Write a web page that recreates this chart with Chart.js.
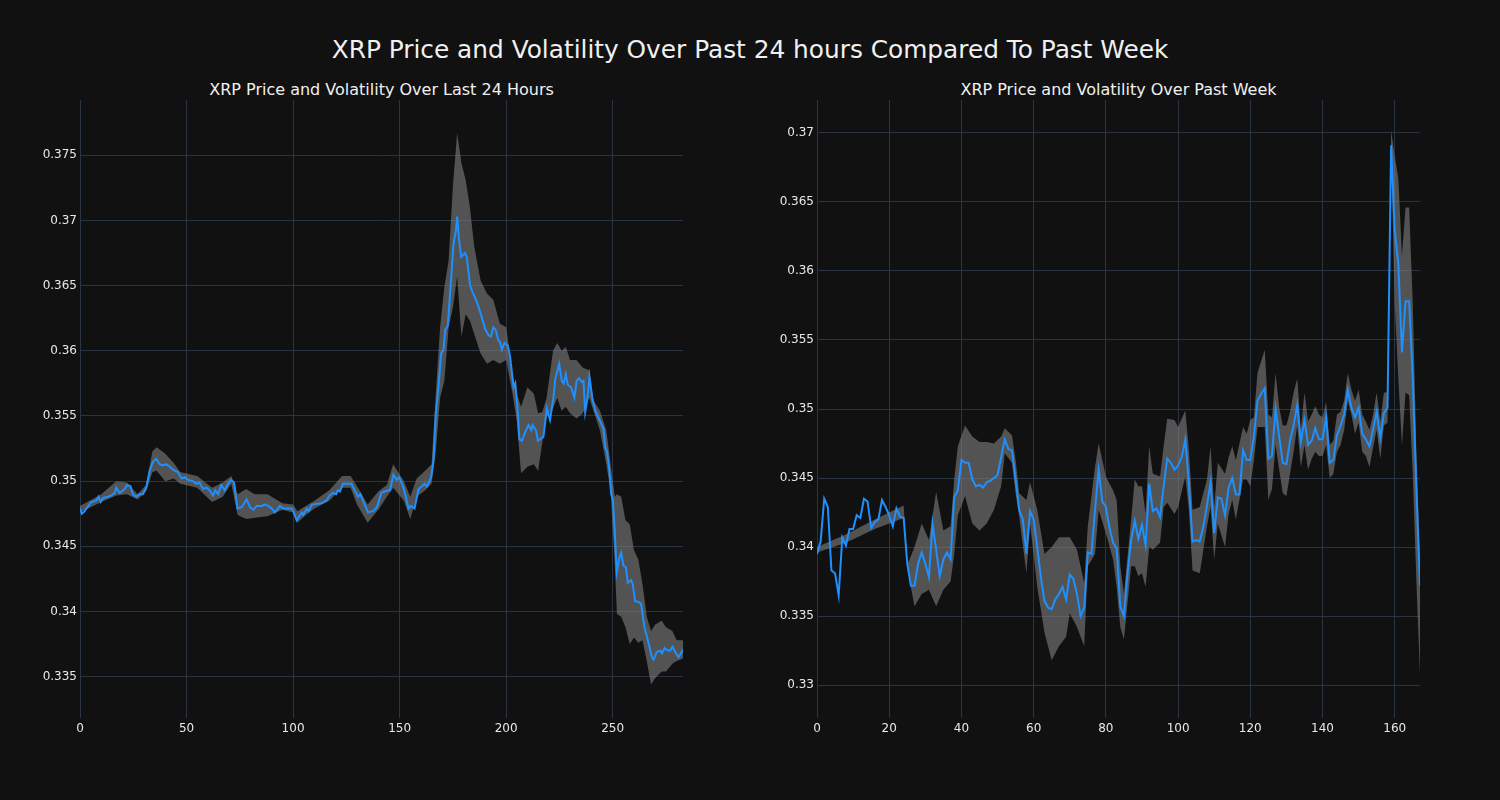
<!DOCTYPE html>
<html>
<head>
<meta charset="utf-8">
<script src="https://cdn.jsdelivr.net/npm/chart.js@4.4.0/dist/chart.umd.min.js"></script>
<style>
  body { margin: 0; background: #111111; width: 1500px; height: 800px; overflow: hidden; font-family: "DejaVu Sans", sans-serif; }
  .ttl { position: absolute; color: #f0f0f0; white-space: nowrap; transform: translateX(-50%); line-height: 1; }
  .box { position: absolute; top: 80px; }
</style>
</head>
<body>
<div class="ttl" id="mainTitle" style="left:750px; top:38px; font-size:24.8px;"></div>
<div class="ttl" id="leftTitle" style="left:381.5px; top:82px; font-size:16px;"></div>
<div class="ttl" id="rightTitle" style="left:1118.5px; top:82px; font-size:16px;"></div>
<div class="box" style="left:0px;"><canvas id="leftChart" width="700" height="668"></canvas></div>
<div class="box" style="left:737px;"><canvas id="rightChart" width="700" height="668"></canvas></div>
<script>
const mainTitle = 'XRP Price and Volatility Over Past 24 hours Compared To Past Week'
const leftTitle = 'XRP Price and Volatility Over Last 24 Hours'
const rightTitle = 'XRP Price and Volatility Over Past Week'

// last 24 hours - price
const leftX = [0, 0.9, 2.2, 5.3, 7.6, 8.7, 9.7, 10.8, 13.1, 14.7, 16.3, 17.0, 18.6, 21.0, 22.2, 23.7, 24.8, 26.4, 27.9, 29.5,
  31.1, 32.7, 34.3, 35.8, 37.4, 39.0, 40.5, 42.1, 44.4, 46.0, 47.6, 49.1, 50.7, 53.0, 54.6, 56.1, 57.7, 59.3, 60.8, 62.4,
  63.5, 64.8, 66.3, 67.9, 69.5, 71.0, 72.3, 73.9, 75.9, 78.2, 79.8, 81.4, 82.9, 85.3, 86.9, 88.4, 90.0, 91.5, 93.9, 95.4,
  99.3, 100.1, 101.7, 103.3, 104.1, 104.8, 106.4, 107.2, 108.9, 113.2, 115.6, 117.1, 118.7, 120.2, 121.0, 122.0, 123.4, 125.0, 127.4, 128.9,
  130.5, 131.6, 133.1, 135.2, 137.5, 139.4, 141.4, 144.6, 145.5, 147.1, 148.7, 149.8, 151.8, 152.9, 154.2, 155.4, 157.0, 158.9, 160.4, 161.7,
  162.8, 164.8, 165.9, 167.0, 168.2, 169.5, 170.6, 171.4, 172.6, 173.7, 175.3, 176.4, 177.0, 177.9, 178.9, 180.7, 181.5, 183.1, 184.2, 185.4,
  187.0, 188.5, 190.1, 191.7, 192.9, 194.0, 195.1, 196.3, 197.1, 198.0, 199.2, 200.8, 201.9, 203.5, 204.3, 205.5, 206.2, 207.4, 209.0, 210.5,
  211.8, 212.4, 214.0, 214.9, 217.5, 219.1, 220.6, 222.2, 223.0, 224.9, 226.1, 227.0, 228.0, 228.9, 230.5, 232.0, 233.1, 234.2, 235.5, 236.3,
  237.1, 238.2, 239.1, 240.5, 241.8, 244.1, 245.7, 246.5, 247.3, 248.3, 249.3, 250.1, 250.9, 251.9, 253.1, 254.0, 255.1, 256.2, 257.1, 258.6,
  259.4, 260.5, 262.4, 263.3, 264.9, 266.8, 268.4, 269.2, 270.7, 272.3, 273.1, 274.4, 275.9, 277.0, 278.1, 279.7, 280.9, 282.5, 283]
const leftPrice = [0.3479, 0.3475, 0.3477, 0.3484, 0.3485, 0.3488, 0.3484, 0.3487, 0.3488, 0.3489, 0.3491, 0.3495, 0.3491, 0.3494, 0.3497, 0.3496, 0.3490, 0.3488, 0.3490, 0.3490,
  0.3495, 0.3508, 0.3515, 0.3517, 0.3513, 0.3512, 0.3513, 0.3511, 0.3508, 0.3507, 0.3502, 0.3503, 0.3501, 0.3500, 0.3498, 0.3499, 0.3494, 0.3495, 0.3493, 0.3489,
  0.3493, 0.3490, 0.3497, 0.3493, 0.3498, 0.3501, 0.3499, 0.3479, 0.3480, 0.3486, 0.3480, 0.3478, 0.3481, 0.3481, 0.3482, 0.3481, 0.3479, 0.3476, 0.3481, 0.3479,
  0.3479, 0.3477, 0.3470, 0.3474, 0.3476, 0.3474, 0.3479, 0.3477, 0.3482, 0.3483, 0.3485, 0.3489, 0.3491, 0.3490, 0.3493, 0.3492, 0.3498, 0.3498, 0.3498, 0.3493,
  0.3488, 0.3490, 0.3484, 0.3476, 0.3477, 0.3480, 0.3491, 0.3493, 0.3493, 0.3505, 0.3501, 0.3503, 0.3495, 0.3488, 0.3479, 0.3481, 0.3479, 0.3494, 0.3496, 0.3498,
  0.3496, 0.3503, 0.3516, 0.3552, 0.3572, 0.3598, 0.3601, 0.3616, 0.3619, 0.3644, 0.3682, 0.3692, 0.3703, 0.3685, 0.3672, 0.3675, 0.3672, 0.3650, 0.3645, 0.3641,
  0.3634, 0.3626, 0.3617, 0.3612, 0.3611, 0.3618, 0.3616, 0.3608, 0.3607, 0.3601, 0.3606, 0.3604, 0.3595, 0.3572, 0.3575, 0.3552, 0.3532, 0.3531, 0.3538, 0.3543,
  0.3539, 0.3543, 0.3539, 0.3531, 0.3534, 0.3556, 0.3547, 0.3564, 0.3578, 0.3590, 0.3577, 0.3575, 0.3582, 0.3574, 0.3572, 0.3564, 0.3577, 0.3579, 0.3576, 0.3577,
  0.3553, 0.3564, 0.3580, 0.3563, 0.3554, 0.3546, 0.3540, 0.3526, 0.3523, 0.3511, 0.3490, 0.3486, 0.3464, 0.3430, 0.3441, 0.3445, 0.3435, 0.3434, 0.3422, 0.3424,
  0.3421, 0.3408, 0.3407, 0.3406, 0.3388, 0.3376, 0.3365, 0.3363, 0.3369, 0.3370, 0.3368, 0.3372, 0.3370, 0.3370, 0.3373, 0.3368, 0.3365, 0.3369, 0.3371]

// last 24 hours - volatility band
const leftBandX = [0, 10, 17, 22, 27, 31, 34, 36, 40, 44, 47, 55, 62, 67, 71, 74, 78, 82, 88, 95,
  100, 102, 106, 110, 117, 123, 127, 130, 135, 140, 144, 147, 152, 155, 158, 162, 165, 167, 169, 171,
  173, 175, 177, 179, 181, 183, 185, 188, 191, 194, 197, 200, 203, 205, 207, 210, 213, 215, 217, 219,
  222, 224, 226, 228, 230, 233, 236, 239, 241, 244, 247, 249, 251, 252, 254, 256, 258, 260, 262, 264,
  266, 268, 270, 273, 275, 278, 280, 283]
const leftUpper = [0.3481, 0.3490, 0.3500, 0.3499, 0.3490, 0.3497, 0.3523, 0.3526, 0.3521, 0.3514, 0.3507, 0.3504, 0.3495, 0.3499, 0.3504, 0.3490, 0.3494, 0.3490, 0.3490, 0.3483,
  0.3482, 0.3477, 0.3481, 0.3485, 0.3493, 0.3504, 0.3504, 0.3496, 0.3482, 0.3492, 0.3497, 0.3513, 0.3500, 0.3488, 0.3502, 0.3508, 0.3513, 0.3567, 0.3618, 0.3649,
  0.3669, 0.3726, 0.3767, 0.3744, 0.3731, 0.3710, 0.3680, 0.3654, 0.3644, 0.3639, 0.3621, 0.3618, 0.3582, 0.3567, 0.3557, 0.3572, 0.3567, 0.3552, 0.3553, 0.3564,
  0.3600, 0.3606, 0.3600, 0.3603, 0.3593, 0.3593, 0.3587, 0.3585, 0.3562, 0.3554, 0.3539, 0.3513, 0.3488, 0.3490, 0.3488, 0.3470, 0.3467, 0.3447, 0.3440, 0.3421,
  0.3396, 0.3385, 0.3390, 0.3393, 0.3388, 0.3385, 0.3378, 0.3378]
const leftLower = [0.3476, 0.3484, 0.3489, 0.3490, 0.3486, 0.3492, 0.3507, 0.3508, 0.3500, 0.3502, 0.3498, 0.3495, 0.3484, 0.3488, 0.3498, 0.3474, 0.3471, 0.3472, 0.3473, 0.3478,
  0.3476, 0.3468, 0.3474, 0.3479, 0.3485, 0.3495, 0.3495, 0.3482, 0.3468, 0.3478, 0.3488, 0.3495, 0.3485, 0.3471, 0.3488, 0.3493, 0.3498, 0.3523, 0.3564, 0.3577,
  0.3618, 0.3633, 0.3657, 0.3611, 0.3628, 0.3623, 0.3613, 0.3598, 0.3590, 0.3593, 0.3590, 0.3593, 0.3567, 0.3546, 0.3506, 0.3511, 0.3513, 0.3508, 0.3530, 0.3549,
  0.3556, 0.3564, 0.3554, 0.3557, 0.3552, 0.3548, 0.3552, 0.3564, 0.3554, 0.3539, 0.3513, 0.3493, 0.3436, 0.3398, 0.3396, 0.3388, 0.3375, 0.3380, 0.3376, 0.3378,
  0.3362, 0.3344, 0.3349, 0.3354, 0.3354, 0.3360, 0.3362, 0.3364]

// past week - price (hourly)
const rightX = [0, 1, 2, 3, 4, 5, 6, 7, 8, 9, 10, 11, 12, 13, 14, 15, 16, 17, 18, 19,
  20, 21, 22, 23, 24, 25, 26, 27, 28, 29, 30, 31, 32, 33, 34, 35, 36, 37, 38, 39,
  40, 41, 42, 43, 44, 45, 46, 47, 48, 50, 51, 52, 53, 54, 55, 56, 57, 58, 59, 60,
  61, 62, 63, 64, 65, 66, 67, 68, 69, 70, 71, 72, 73, 74, 75, 76, 77, 78, 79, 80,
  81, 82, 83, 84, 85, 86, 87, 88, 89, 90, 91, 92, 93, 94, 95, 96, 97, 98, 99, 100,
  101, 102, 103, 104, 105, 106, 107, 108, 109, 110, 111, 112, 113, 114, 115, 116, 117, 118, 119, 120,
  121, 122, 123, 124, 125, 126, 127, 128, 129, 130, 131, 132, 133, 134, 135, 136, 137, 138, 139, 140,
  141, 142, 143, 144, 145, 146, 147, 148, 149, 150, 151, 152, 153, 154, 155, 156, 157, 158, 159, 160,
  161, 162, 163, 164, 165, 166, 167]
const rightPrice = [0.3395, 0.3404, 0.3435, 0.3429, 0.3383, 0.3381, 0.3365, 0.3407, 0.3401, 0.3413, 0.3413, 0.3423, 0.3421, 0.3435, 0.3433, 0.3414, 0.3418, 0.3420, 0.3434, 0.3429,
  0.3423, 0.3415, 0.3428, 0.3422, 0.3421, 0.3388, 0.3372, 0.3372, 0.3388, 0.3396, 0.3388, 0.3378, 0.3417, 0.3398, 0.3379, 0.3391, 0.3396, 0.3391, 0.3436, 0.3441,
  0.3463, 0.3461, 0.3461, 0.3449, 0.3444, 0.3445, 0.3443, 0.3447, 0.3448, 0.3452, 0.3465, 0.3478, 0.3471, 0.3470, 0.3449, 0.3427, 0.3420, 0.3395, 0.3426, 0.3420,
  0.3400, 0.3378, 0.3361, 0.3356, 0.3355, 0.3362, 0.3366, 0.3371, 0.3362, 0.3380, 0.3377, 0.3366, 0.3350, 0.3356, 0.3396, 0.3395, 0.3427, 0.3456, 0.3433, 0.3429,
  0.3414, 0.3403, 0.3399, 0.3357, 0.3350, 0.3381, 0.3405, 0.3419, 0.3406, 0.3416, 0.3401, 0.3446, 0.3426, 0.3428, 0.3422, 0.3444, 0.3464, 0.3461, 0.3456, 0.3459,
  0.3465, 0.3478, 0.3446, 0.3404, 0.3405, 0.3404, 0.3415, 0.3430, 0.3447, 0.3410, 0.3436, 0.3435, 0.3423, 0.3443, 0.3450, 0.3438, 0.3438, 0.3470, 0.3463, 0.3463,
  0.3480, 0.3506, 0.3511, 0.3515, 0.3464, 0.3466, 0.3500, 0.3480, 0.3461, 0.3460, 0.3477, 0.3488, 0.3503, 0.3476, 0.3492, 0.3474, 0.3477, 0.3486, 0.3478, 0.3478,
  0.3494, 0.3461, 0.3463, 0.3481, 0.3488, 0.3496, 0.3514, 0.3501, 0.3494, 0.3501, 0.3482, 0.3478, 0.3473, 0.3485, 0.3498, 0.3479, 0.3497, 0.3501, 0.3691, 0.3630,
  0.3605, 0.3541, 0.3578, 0.3578, 0.3522, 0.3442, 0.3372]

// past week - volatility band
const rightBandX = [0, 8, 16, 24, 25, 27, 29, 31, 33, 35, 37, 38, 39, 41, 43, 45, 47, 49, 51, 52,
  54, 55, 56, 58, 59, 61, 63, 65, 67, 69, 70, 72, 74, 75, 77, 78, 80, 82, 83, 84,
  85, 87, 88, 89, 90, 91, 92, 93, 95, 96, 97, 99, 100, 102, 103, 104, 106, 108, 109, 110,
  111, 113, 114, 115, 116, 118, 119, 120, 121, 122, 124, 125, 126, 127, 128, 129, 130, 131, 132, 133,
  134, 135, 136, 137, 138, 139, 140, 141, 142, 143, 144, 145, 146, 147, 148, 149, 150, 151, 152, 153,
  154, 155, 156, 157, 158, 159, 160, 161, 162, 163, 164, 165, 166, 167]
const rightUpper = [0.3400, 0.3409, 0.3420, 0.3430, 0.3387, 0.3400, 0.3417, 0.3405, 0.3440, 0.3412, 0.3415, 0.3449, 0.3473, 0.3488, 0.3480, 0.3476, 0.3476, 0.3475, 0.3480, 0.3486,
  0.3481, 0.3463, 0.3439, 0.3434, 0.3447, 0.3427, 0.3395, 0.3400, 0.3407, 0.3407, 0.3407, 0.3398, 0.3374, 0.3415, 0.3458, 0.3475, 0.3451, 0.3441, 0.3434, 0.3386,
  0.3366, 0.3420, 0.3449, 0.3444, 0.3444, 0.3424, 0.3473, 0.3453, 0.3451, 0.3473, 0.3493, 0.3492, 0.3487, 0.3499, 0.3470, 0.3427, 0.3429, 0.3449, 0.3473, 0.3429,
  0.3461, 0.3453, 0.3465, 0.3473, 0.3463, 0.3487, 0.3482, 0.3492, 0.3494, 0.3526, 0.3543, 0.3496, 0.3494, 0.3526, 0.3501, 0.3488, 0.3488, 0.3498, 0.3512, 0.3522,
  0.3485, 0.3512, 0.3491, 0.3496, 0.3502, 0.3496, 0.3494, 0.3505, 0.3474, 0.3477, 0.3496, 0.3498, 0.3506, 0.3526, 0.3514, 0.3506, 0.3514, 0.3496, 0.3491, 0.3485,
  0.3496, 0.3512, 0.3491, 0.3512, 0.3512, 0.3702, 0.3683, 0.3667, 0.3611, 0.3646, 0.3646, 0.3576, 0.3469, 0.3389]
const rightLower = [0.3396, 0.3403, 0.3413, 0.3421, 0.3385, 0.3357, 0.3366, 0.3369, 0.3357, 0.3369, 0.3375, 0.3395, 0.3423, 0.3437, 0.3417, 0.3412, 0.3417, 0.3427, 0.3444, 0.3468,
  0.3461, 0.3439, 0.3422, 0.3381, 0.3417, 0.3371, 0.3338, 0.3318, 0.3328, 0.3335, 0.3352, 0.3342, 0.3328, 0.3386, 0.3395, 0.3427, 0.3410, 0.3391, 0.3371, 0.3342,
  0.3333, 0.3386, 0.3386, 0.3379, 0.3381, 0.3371, 0.3400, 0.3398, 0.3403, 0.3429, 0.3432, 0.3424, 0.3429, 0.3451, 0.3427, 0.3383, 0.3381, 0.3415, 0.3429, 0.3391,
  0.3417, 0.3400, 0.3424, 0.3434, 0.3420, 0.3449, 0.3449, 0.3444, 0.3463, 0.3487, 0.3487, 0.3434, 0.3442, 0.3474, 0.3456, 0.3439, 0.3437, 0.3453, 0.3469, 0.3488,
  0.3458, 0.3474, 0.3456, 0.3464, 0.3469, 0.3466, 0.3466, 0.3474, 0.3450, 0.3453, 0.3469, 0.3474, 0.3485, 0.3506, 0.3496, 0.3482, 0.3490, 0.3469, 0.3466, 0.3458,
  0.3472, 0.3485, 0.3464, 0.3488, 0.3490, 0.3686, 0.3576, 0.3522, 0.3474, 0.3512, 0.3510, 0.3453, 0.3375, 0.3308]

// axes
const leftXTicks = [0, 50, 100, 150, 200, 250]
const leftYTicks = [0.335, 0.34, 0.345, 0.35, 0.355, 0.36, 0.365, 0.37, 0.375]
const rightXTicks = [0, 20, 40, 60, 80, 100, 120, 140, 160]
const rightYTicks = [0.33, 0.335, 0.34, 0.345, 0.35, 0.355, 0.36, 0.365, 0.37]

document.getElementById('mainTitle').textContent = mainTitle
document.getElementById('leftTitle').textContent = leftTitle
document.getElementById('rightTitle').textContent = rightTitle

const font = { family: '"DejaVu Sans", sans-serif', size: 12 }
const gridColor = '#2b3441'
const tickColor = '#e8e8e8'

function pts(xs, ys) {
  return xs.map((x, i) => ({ x: x, y: ys[i] }))
}

function drawChart(id, priceX, price, bandX, upper, lower, xMax, yMin, yMax, xTicks, yTicks) {
  new Chart(document.getElementById(id), {
    type: 'line',
    data: {
      datasets: [
        {
          data: pts(bandX, upper),
          borderWidth: 0,
          pointRadius: 0,
          backgroundColor: 'rgba(128,128,128,0.6)',
          fill: '+1',
          order: 2
        },
        {
          data: pts(bandX, lower),
          borderWidth: 0,
          pointRadius: 0,
          fill: false,
          order: 2
        },
        {
          data: pts(priceX, price),
          borderColor: '#1e90ff',
          borderWidth: 2,
          pointRadius: 0,
          fill: false,
          order: 1
        }
      ]
    },
    options: {
      responsive: false,
      animation: false,
      layout: { padding: { top: 20, right: 17, left: 0, bottom: 0 } },
      plugins: { legend: { display: false }, tooltip: { enabled: false } },
      scales: {
        x: {
          type: 'linear',
          min: 0,
          max: xMax,
          afterBuildTicks: s => { s.ticks = xTicks.map(v => ({ value: v })) },
          afterFit: s => { s.height = 30 },
          grid: { color: gridColor, drawTicks: false },
          border: { display: false },
          ticks: { color: tickColor, font: font, padding: 4, maxRotation: 0, autoSkip: false }
        },
        y: {
          min: yMin,
          max: yMax,
          afterBuildTicks: s => { s.ticks = yTicks.map(v => ({ value: v })) },
          afterFit: s => { s.width = 80 },
          grid: { color: gridColor, drawTicks: false },
          border: { display: false },
          ticks: { color: tickColor, font: font, padding: 3, callback: v => String(+v.toFixed(4)) }
        }
      }
    }
  })
}

drawChart('leftChart', leftX, leftPrice, leftBandX, leftUpper, leftLower, 283, 0.33183, 0.37924, leftXTicks, leftYTicks)
drawChart('rightChart', rightX, rightPrice, rightBandX, rightUpper, rightLower, 167, 0.32761, 0.37239, rightXTicks, rightYTicks)
</script>
</body>
</html>
